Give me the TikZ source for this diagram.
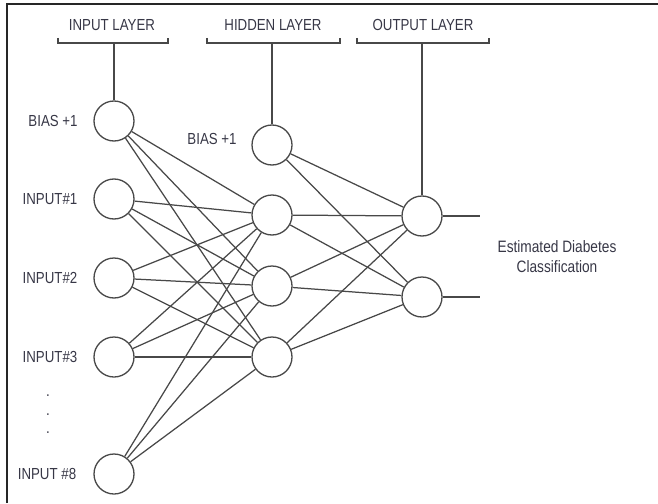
\documentclass[tikz,border=0pt]{standalone}
\usepackage{fontspec}
\setmainfont{Liberation Sans}[FakeStretch=0.83]
\begin{document}
\begin{tikzpicture}[x=1pt,y=-1pt,
  neuron/.style={circle,draw=linec,line width=1.3pt,minimum size=40pt,inner sep=0pt},
  lbl/.style={text=textc,font=\fontsize{16}{20}\selectfont,inner sep=0pt},
  conn/.style={draw=linec,line width=1.25pt},
  brk/.style={draw=linec,line width=1.3pt}]
\definecolor{linec}{RGB}{72,72,72}
\definecolor{textc}{RGB}{55,55,70}
\useasboundingbox (0,0) rectangle (658,503);
\draw[line width=1.6pt,draw=black!85] (7,503) -- (7,4) -- (658,4);
% input layer
\node[neuron] (ib) at (114,121) {};
\node[neuron] (i1) at (114,199) {};
\node[neuron] (i2) at (114,278) {};
\node[neuron] (i3) at (114,357) {};
\node[neuron] (i8) at (114,474) {};
% hidden layer
\node[neuron] (hb) at (272,145) {};
\node[neuron] (h1) at (272,215) {};
\node[neuron] (h2) at (272,286) {};
\node[neuron] (h3) at (272,357) {};
% output layer
\node[neuron] (o1) at (422,216) {};
\node[neuron] (o2) at (422,297) {};
% labels
\node[lbl] (lib) at (53,121) {BIAS +1};
\node[lbl] (li1) at (50,199) {INPUT\#1};
\node[lbl] (li2) at (50,278) {INPUT\#2};
\node[lbl] (li3) at (50,357) {INPUT\#3};
\node[lbl] (li8) at (47,474) {INPUT \#8};
\node[lbl] (lhb) at (212,139) {BIAS +1};
\node[lbl] (d1) at (48,396) {.};
\node[lbl] (d2) at (48,415) {.};
\node[lbl] (d3) at (48,433) {.};
\node[lbl,align=center,font=\fontsize{16.5}{20}\selectfont] (est) at (557,257) {Estimated Diabetes\\Classification};
% headers
\node[lbl] (hin) at (112,25) {INPUT LAYER};
\node[lbl] (hhd) at (273,25) {HIDDEN LAYER};
\node[lbl] (hout) at (423,25) {OUTPUT LAYER};
% brackets
\draw[brk] (58,38) -- (58,43) -- (168,43) -- (168,38);
\draw[brk] (207,38) -- (207,43) -- (340,43) -- (340,38);
\draw[brk] (357,38) -- (357,43) -- (489,43) -- (489,38);
\coordinate (bi) at (114,43);
\coordinate (bh) at (272,43);
\coordinate (bo) at (422,43);
\draw[conn] (bi) -- (ib);
\draw[conn] (bh) -- (hb);
\draw[conn] (bo) -- (o1);
% input to hidden
\foreach \a in {ib,i1,i2,i3,i8}
  \foreach \b in {h1,h2,h3}
    \draw[conn] (\a) -- (\b);
% hidden to output
\foreach \a in {hb,h1,h2,h3}
  \foreach \b in {o1,o2}
    \draw[conn] (\a) -- (\b);
% outputs
\coordinate (e1) at (480,216);
\coordinate (e2) at (480,297);
\draw[conn] (o1) -- (e1);
\draw[conn] (o2) -- (e2);
\end{tikzpicture}
\end{document}
